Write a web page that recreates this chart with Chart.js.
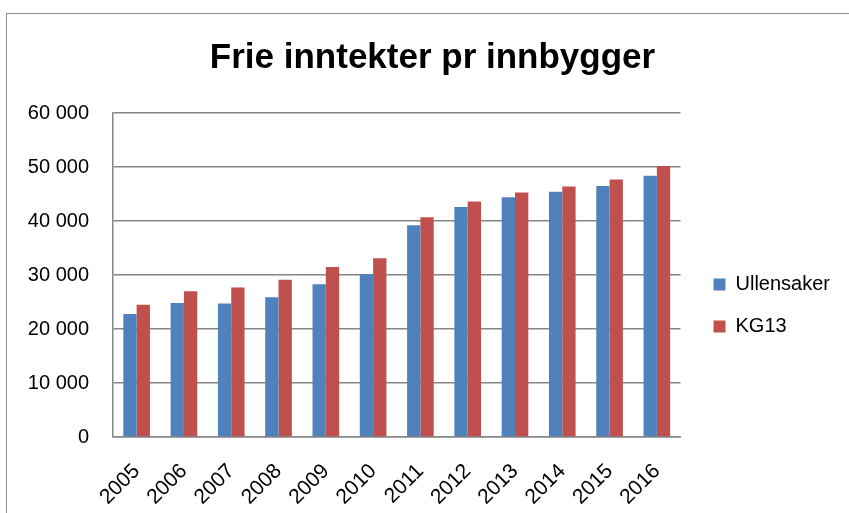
<!DOCTYPE html>
<html>
<head>
<meta charset="utf-8">
<script src="https://cdn.jsdelivr.net/npm/chart.js@4.4.0/dist/chart.umd.min.js"></script>
<style>
  html, body { margin: 0; padding: 0; background: #fff; overflow: hidden; }
  #frame { position: absolute; left: 6px; top: 13px; width: 900px; height: 600px; border: 1px solid #8c8c8c; }
  #wrap { position: absolute; left: 0; top: 0; width: 849px; height: 513px; }
</style>
</head>
<body>
<div id="frame"></div>
<div id="wrap"><canvas id="chart"></canvas></div>
<script>
// values
const years = ['2005', '2006', '2007', '2008', '2009', '2010', '2011', '2012', '2013', '2014', '2015', '2016'];
const ullensaker = [22800, 24800, 24700, 25900, 28300, 30200, 39200, 42600, 44400, 45400, 46500, 48400];
const kg13 = [24500, 27000, 27700, 29100, 31500, 33100, 40700, 43600, 45300, 46400, 47700, 50200];

function spaced(v) {
  return String(v).replace(/\B(?=(\d{3})+(?!\d))/g, ' ');
}

// move legend and title a bit, the chart area stays put
const nudgeBoxes = {
  id: 'nudgeBoxes',
  afterLayout(chart) {
    const lg = chart.legend;
    lg.left += 11; lg.right += 11;
    lg.top += 49; lg.bottom += 49;
    const t = chart.titleBlock;
    t.left += 18; t.right += 18;
  }
};

Chart.defaults.font.family = 'Liberation Sans';
Chart.defaults.color = '#000';

new Chart(document.getElementById('chart'), {
  type: 'bar',
  data: {
    labels: years,
    datasets: [
      { label: 'Ullensaker', data: ullensaker, backgroundColor: '#4f81bd' },
      { label: 'KG13', data: kg13, backgroundColor: '#c0504d' }
    ]
  },
  options: {
    responsive: true,
    maintainAspectRatio: false,
    animation: false,
    datasets: { bar: { categoryPercentage: 0.563, barPercentage: 1.0 } },
    layout: { padding: { left: 0, right: 20, top: 0, bottom: 0 } },
    plugins: {
      title: {
        display: true,
        text: 'Frie inntekter pr innbygger',
        font: { size: 35, weight: 'bold' },
        padding: { top: 37, bottom: 34 }
      },
      legend: {
        position: 'right',
        labels: { boxWidth: 12, boxHeight: 12, padding: 22, font: { size: 20 } }
      },
      tooltip: { enabled: false }
    },
    scales: {
      x: {
        grid: { display: false },
        border: { color: '#868686', width: 1.5 },
        ticks: { minRotation: 45, maxRotation: 45, padding: 14, font: { size: 21 } },
        afterFit(axis) { axis.height = 76; }
      },
      y: {
        min: 0,
        max: 60000,
        grid: { color: '#868686', lineWidth: 1.5, drawTicks: false },
        border: { color: '#868686', width: 1.5 },
        ticks: { stepSize: 10000, padding: 24, font: { size: 20 }, callback: v => spaced(v) },
        afterFit(axis) { axis.width = 113; }
      }
    }
  },
  plugins: [nudgeBoxes]
});
</script>
</body>
</html>
